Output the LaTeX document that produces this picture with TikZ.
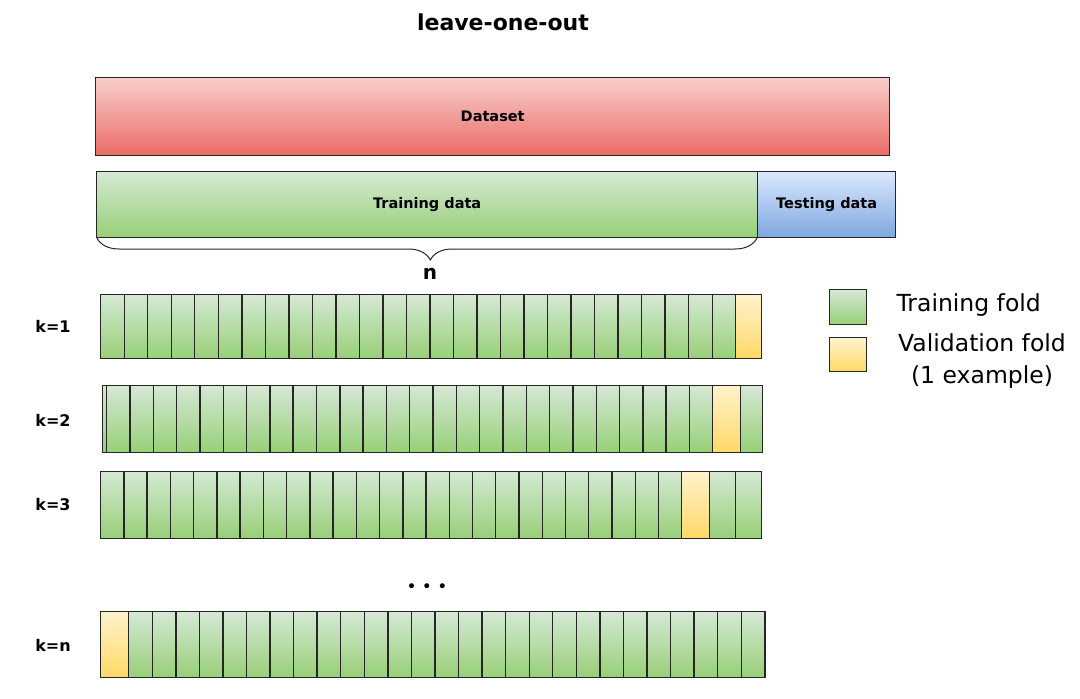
\documentclass[tikz,border=0pt]{standalone}
\usepackage{fontspec}
\setmainfont{DejaVu Sans}
\usetikzlibrary{decorations.pathreplacing}
\definecolor{gtop}{HTML}{D5E8D4}
\definecolor{gbot}{HTML}{97D077}
\definecolor{ytop}{HTML}{FFF2CC}
\definecolor{ybot}{HTML}{FFD966}
\definecolor{rtop}{HTML}{F8CECC}
\definecolor{rbot}{HTML}{EA6B66}
\definecolor{btop}{HTML}{DAE8FC}
\definecolor{bbot}{HTML}{7EA6E0}
\definecolor{edge}{HTML}{262626}
\begin{document}
\begin{tikzpicture}[x=1pt,y=-1pt,
  box/.style={draw=edge, line width=1.4pt, inner sep=0pt, anchor=north west},
  gcell/.style={box, top color=gtop, bottom color=gbot, minimum height=64pt},
  ycell/.style={box, top color=ytop, bottom color=ybot, minimum height=64pt},
  lbl/.style={font=\bfseries\fontsize{14.5}{17}\selectfont},
  klbl/.style={font=\bfseries\fontsize{16}{18}\selectfont},
  leg/.style={font=\fontsize{23.5}{32}\selectfont}]
\path[use as bounding box] (0,0) rectangle (1080,699);
% title
\node[font=\bfseries\fontsize{22}{26}\selectfont] (title) at (503,22) {leave-one-out};
% dataset
\node[box, top color=rtop, bottom color=rbot, minimum width=794pt, minimum height=78pt] (ds) at (95,77) {};
\node[lbl] (dst) at (ds.center) {Dataset};
\node[box, top color=gtop, bottom color=gbot, minimum width=661pt, minimum height=66pt] (train) at (96,171) {};
\node[lbl] (traint) at (train.center) {Training data};
\node[box, top color=btop, bottom color=bbot, minimum width=138pt, minimum height=66pt] (test) at (757,171) {};
\node[lbl] (testt) at (test.center) {Testing data};
% brace
\coordinate (bl) at (97,238);
\coordinate (br) at (757,238);
\draw[edge, line width=1pt, decoration={brace, mirror, amplitude=22pt, aspect=0.505}, decorate] (bl) -- (br);
\node[font=\bfseries\fontsize{20}{24}\selectfont] (n) at (430,274) {n};
% row 1
\foreach \i in {0,...,26} \node[gcell, minimum width=23.52pt] (ra\i) at ({100+\i*23.52},294) {};
\node[ycell, minimum width=26pt] (ray) at (735,294) {};
\node[klbl] (k1) at (53,326) {k=1};
% row 2
\node[gcell, minimum width=4pt, minimum height=67pt] (rbs) at (102,385) {};
\foreach \i in {0,...,25} \node[gcell, minimum width=23.31pt, minimum height=67pt] (rb\i) at ({106+\i*23.31},385) {};
\node[ycell, minimum width=28pt, minimum height=67pt] (rby) at (712,385) {};
\node[gcell, minimum width=22pt, minimum height=67pt] (rbe) at (740,385) {};
\node[klbl] (k2) at (53,420) {k=2};
% row 3
\foreach \i in {0,...,24} \node[gcell, minimum width=23.24pt, minimum height=67pt] (rc\i) at ({100+\i*23.24},471) {};
\node[ycell, minimum width=28pt, minimum height=67pt] (rcy) at (681,471) {};
\node[gcell, minimum width=26pt, minimum height=67pt] (rce1) at (709,471) {};
\node[gcell, minimum width=26pt, minimum height=67pt] (rce2) at (735,471) {};
\node[klbl] (k3) at (53,505) {k=3};
% dots
\node[font=\fontsize{17}{20}\selectfont] (dots) at (427,588) {• • •};
% row n
\node[ycell, minimum width=28pt, minimum height=66pt] (rny) at (100,611) {};
\foreach \i in {0,...,26} \node[gcell, minimum width=23.56pt, minimum height=66pt] (rn\i) at ({128+\i*23.56},611) {};
\node[klbl] (kn) at (53,645) {k=n};
% legend
\node[gcell, minimum width=37pt, minimum height=35pt] (lg) at (829,289) {};
\node[ycell, minimum width=37pt, minimum height=34pt] (ly) at (829,337) {};
\node[leg, anchor=west] (lgt) at (893,305) {Training fold};
\node[leg, align=center] (lyt) at (982,361) {Validation fold\\(1 example)};
\end{tikzpicture}
\end{document}
